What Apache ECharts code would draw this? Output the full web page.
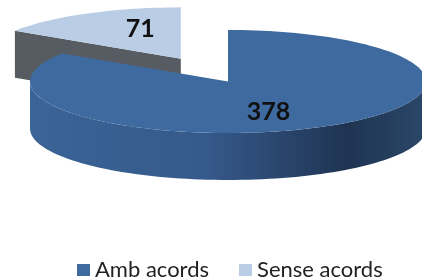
<!DOCTYPE html>
<html>
<head>
<meta charset="utf-8">
<script src="https://cdn.jsdelivr.net/npm/echarts@6/dist/echarts.min.js"></script>
<style>
  html, body { margin: 0; padding: 0; background: #fff; }
  #main { width: 422px; height: 278px; }
</style>
</head>
<body>
<div id="main"></div>
<script>
var categories = ['Amb acords', 'Sense acords'];
var values = [378, 71];
var topColors = ['#3e6aa0', '#b9cde5'];
var cutColors = ['#2c4a72', '#575c62'];

var total = values[0] + values[1];

// el·lipse de la cara de dalt
var cx = 228, cy = 81.5, rx = 198, ry = 51.5, depth = 47;

function pt(x0, y0, a, f) {
    var r = a * Math.PI / 180;
    return [x0 + rx * f * Math.sin(r), y0 - ry * f * Math.cos(r)];
}
function arc(x0, y0, a0, a1, dy) {
    var pts = [], n = Math.max(2, Math.ceil((a1 - a0) / 2));
    for (var i = 0; i <= n; i++) {
        var p = pt(x0, y0, a0 + (a1 - a0) * i / n, 1);
        pts.push([p[0], p[1] + dy]);
    }
    return pts;
}

function slice(idx) {
    return function (params, api) {
        var before = 0;
        for (var i = 0; i < idx; i++) before += values[i];
        var a0 = before / total * 360;
        var a1 = (before + api.value(0)) / total * 360;
        var mid = (a0 + a1) / 2;
        var x0 = cx, y0 = cy;
        if (idx === 1) { // porció separada
            var o = pt(0, 0, mid, 0.5);
            x0 += o[0]; y0 += o[1];
        }
        var children = [];
        // cara del tall (visible cap endavant)
        if (idx === 1) {
            var rim0 = pt(x0, y0, a0, 1);
            children.push({
                type: 'polygon',
                shape: { points: [[x0, y0], rim0, [rim0[0], rim0[1] + depth], [x0, y0 + depth]] },
                style: { fill: cutColors[idx] }
            });
        }
        // paret lateral de davant
        var lo = Math.max(a0, 90), hi = Math.min(a1, 270);
        if (lo < hi) {
            var side = arc(x0, y0, lo, hi, 0).concat(arc(x0, y0, lo, hi, depth).reverse());
            children.push({
                type: 'polygon',
                shape: { points: side },
                style: {
                    fill: new echarts.graphic.LinearGradient(0, 0, 1, 0, [
                        { offset: 0, color: '#3b6497' },
                        { offset: 0.45, color: '#35598a' },
                        { offset: 0.8, color: '#1f3452' },
                        { offset: 1, color: '#2b4768' }
                    ])
                }
            });
        }
        // cara de dalt
        children.push({
            type: 'polygon',
            shape: { points: [[x0, y0]].concat(arc(x0, y0, a0, a1, 0)) },
            style: { fill: topColors[idx] }
        });
        var r = mid * Math.PI / 180;
        children.push({
            type: 'text',
            style: {
                text: String(api.value(0)),
                x: x0 + rx * 0.43 * Math.sin(r),
                y: y0 - ry * 0.67 * Math.cos(r),
                align: 'center',
                verticalAlign: 'middle',
                fill: '#111',
                font: 'bold 25px Lato'
            }
        });
        return { type: 'group', children: children };
    };
}

var myChart = echarts.init(document.getElementById('main'));
var option = {
    animation: false,
    legend: {
        data: categories,
        left: 72,
        top: 254,
        icon: 'rect',
        itemWidth: 13,
        itemHeight: 12,
        itemGap: 30,
        textStyle: { fontFamily: 'Lato', fontSize: 22, color: '#222' }
    },
    series: [
        {
            type: 'custom',
            name: categories[0],
            coordinateSystem: 'none',
            z: 3,
            itemStyle: { color: topColors[0] },
            renderItem: slice(0),
            data: [values[0]]
        },
        {
            type: 'custom',
            name: categories[1],
            coordinateSystem: 'none',
            z: 2,
            itemStyle: { color: topColors[1] },
            renderItem: slice(1),
            data: [values[1]]
        }
    ]
};
myChart.setOption(option);
</script>
</body>
</html>
